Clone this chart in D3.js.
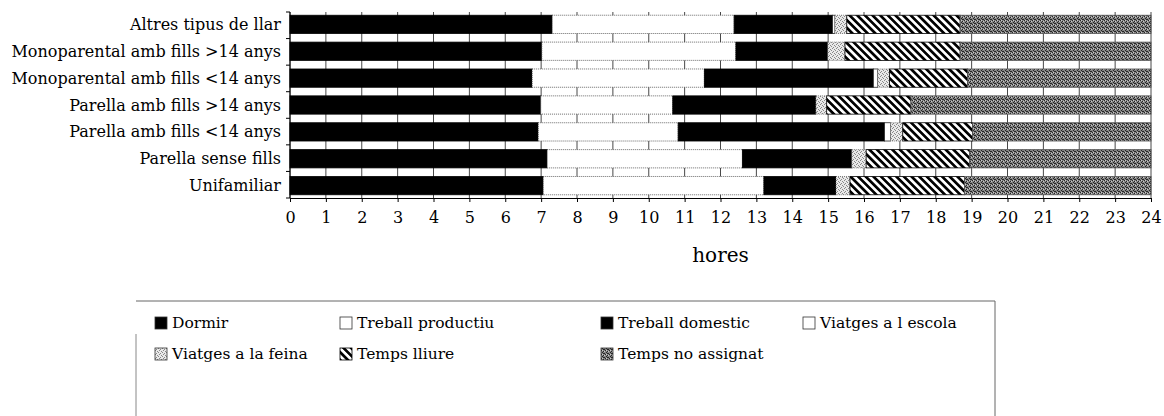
<!DOCTYPE html>
<html>
<head>
<meta charset="utf-8">
<script src="https://cdn.jsdelivr.net/npm/d3@7"></script>
<style>
  body { margin: 0; background: #fff; }
  svg { display: block; }
  text { font-family: "DejaVu Serif", "Liberation Serif", serif; fill: #000; }
</style>
</head>
<body>
<div id="chart"></div>
<script>
// Data (hours per day, rows top to bottom)
var categories = ["Altres tipus de llar", "Monoparental amb fills >14 anys", "Monoparental amb fills <14 anys",
                  "Parella amb fills >14 anys", "Parella amb fills <14 anys", "Parella sense fills", "Unifamiliar"];
var dormir          = [7.31, 7.02, 6.75, 6.99, 6.92, 7.17, 7.06];
var treballProd     = [5.07, 5.41, 4.80, 3.68, 3.90, 5.44, 6.15];
var treballDom      = [2.74, 2.56, 4.71, 3.99, 5.75, 3.05, 2.01];
var viatgesEscola   = [0.07, 0.00, 0.12, 0.00, 0.17, 0.00, 0.00];
var viatgesFeina    = [0.33, 0.48, 0.33, 0.30, 0.34, 0.40, 0.39];
var tempsLliure     = [3.16, 3.21, 2.18, 2.35, 1.95, 2.89, 3.19];
var tempsNoAssignat = [5.32, 5.32, 5.11, 6.69, 4.97, 5.05, 5.20];
var seriesNames = ["Dormir", "Treball productiu", "Treball domestic", "Viatges a l escola",
                   "Viatges a la feina", "Temps lliure", "Temps no assignat"];
var hourTicks = [0, 1, 2, 3, 4, 5, 6, 7, 8, 9, 10, 11, 12, 13, 14, 15, 16, 17, 18, 19, 20, 21, 22, 23, 24];
var axisTitle = "hores";

var seriesValues = [dormir, treballProd, treballDom, viatgesEscola, viatgesFeina, tempsLliure, tempsNoAssignat];
var keys = ["k0", "k1", "k2", "k3", "k4", "k5", "k6"];

var table = categories.map(function(c, i){
	var row = {cat: c};
	keys.forEach(function(k, j){ row[k] = seriesValues[j][i]; });
	return row;
});

var W = 1164, H = 416;
var plot = {left: 290, right: 1151, top: 12, bottom: 198};

var svg = d3.select("#chart").append("svg")
	.attr("width", W)
	.attr("height", H);

// Patterns for the scanned fills
var defs = svg.append("defs");

var hatch = defs.append("pattern")
	.attr("id", "hatch")
	.attr("patternUnits", "userSpaceOnUse")
	.attr("width", 5.4).attr("height", 5.4)
	.attr("patternTransform", "rotate(-45)");
hatch.append("rect").attr("width", 5.4).attr("height", 5.4).attr("fill", "#fff");
hatch.append("rect").attr("width", 2.7).attr("height", 5.4).attr("fill", "#000");

var light = defs.append("pattern")
	.attr("id", "lightDots")
	.attr("patternUnits", "userSpaceOnUse")
	.attr("width", 4).attr("height", 4);
light.append("rect").attr("width", 4).attr("height", 4).attr("fill", "#e9e9e9");
[[0, 0], [2, 1], [1, 3], [3, 2]].forEach(function(p){
	light.append("rect").attr("x", p[0]).attr("y", p[1]).attr("width", 1).attr("height", 1).attr("fill", "#888");
});

var dark = defs.append("pattern")
	.attr("id", "darkDots")
	.attr("patternUnits", "userSpaceOnUse")
	.attr("width", 4).attr("height", 4);
dark.append("rect").attr("width", 4).attr("height", 4).attr("fill", "#858585");
[[0, 0], [2, 1], [1, 2], [3, 3], [2, 3]].forEach(function(p){
	dark.append("rect").attr("x", p[0]).attr("y", p[1]).attr("width", 1).attr("height", 1).attr("fill", "#262626");
});
[[1, 0], [3, 1]].forEach(function(p){
	dark.append("rect").attr("x", p[0]).attr("y", p[1]).attr("width", 1).attr("height", 1).attr("fill", "#c8c8c8");
});

var styles = [
	{fill: "#000", stroke: "#000", dash: null},
	{fill: "#fff", stroke: "#444", dash: "1,1"},
	{fill: "#000", stroke: "#000", dash: null},
	{fill: "#fff", stroke: "#222", dash: null},
	{fill: "url(#lightDots)", stroke: "#666", dash: "1,1"},
	{fill: "url(#hatch)", stroke: "#000", dash: null},
	{fill: "url(#darkDots)", stroke: "#555", dash: null}
];

// Scales
var x = d3.scaleLinear().domain([0, 24]).range([plot.left, plot.right]);
var y = d3.scaleBand().domain(categories).range([plot.top, plot.bottom]).paddingInner(0.32).paddingOuter(0.12);

// Gridlines at every hour
svg.append("g")
	.attr("class", "grid")
	.selectAll("line")
	.data(hourTicks)
	.enter().append("line")
	.attr("x1", d => x(d)).attr("x2", d => x(d))
	.attr("y1", plot.top).attr("y2", plot.bottom)
	.attr("stroke", "#333")
	.attr("stroke-width", 0.9);

// Stacked bars
var stack = d3.stack().keys(keys);
var layers = svg.append("g").selectAll("g")
	.data(stack(table))
	.enter().append("g")
	.attr("fill", (d, i) => styles[i].fill)
	.attr("stroke", (d, i) => styles[i].stroke)
	.attr("stroke-dasharray", (d, i) => styles[i].dash)
	.attr("stroke-width", 0.8);

layers.selectAll("rect")
	.data(d => d.filter(s => s[1] - s[0] > 0))
	.enter().append("rect")
	.attr("x", d => x(d[0]))
	.attr("y", d => y(d.data.cat))
	.attr("width", d => x(d[1]) - x(d[0]))
	.attr("height", y.bandwidth());

// Left axis with ticks between rows
var leftAxis = svg.append("g");
leftAxis.append("line")
	.attr("x1", plot.left).attr("x2", plot.left)
	.attr("y1", plot.top).attr("y2", plot.bottom)
	.attr("stroke", "#000");
leftAxis.selectAll(".tk")
	.data(d3.range(categories.length + 1))
	.enter().append("line")
	.attr("x1", plot.left - 4).attr("x2", plot.left)
	.attr("y1", d => plot.top + d * (plot.bottom - plot.top) / categories.length)
	.attr("y2", d => plot.top + d * (plot.bottom - plot.top) / categories.length)
	.attr("stroke", "#000");
leftAxis.selectAll(".lbl")
	.data(categories)
	.enter().append("text")
	.attr("x", plot.left - 9)
	.attr("y", d => y(d) + y.bandwidth() / 2)
	.attr("dy", "0.35em")
	.attr("text-anchor", "end")
	.style("font-size", "16px")
	.text(d => d);

// Bottom axis
var bottomAxis = svg.append("g")
	.attr("transform", "translate(0," + plot.bottom + ")")
	.call(d3.axisBottom(x).tickValues(hourTicks).tickFormat(d3.format("d")).tickSizeInner(4).tickSizeOuter(0).tickPadding(10));
bottomAxis.select(".domain").attr("stroke", "#000");
bottomAxis.selectAll(".tick line").attr("stroke", "#000");
bottomAxis.selectAll("text")
	.style("font-family", "'DejaVu Serif', serif")
	.style("font-size", "16px")
	.attr("fill", "#000");

svg.append("text")
	.attr("x", (plot.left + plot.right) / 2)
	.attr("y", 262)
	.attr("text-anchor", "middle")
	.style("font-size", "20px")
	.text(axisTitle);

// Legend frame (scan shows top and right edges, left edge only lower down)
var box = {left: 136, right: 995, top: 301};
svg.append("path")
	.attr("d", "M" + box.left + "," + box.top + "H" + box.right + "V" + H)
	.attr("fill", "none")
	.attr("stroke", "#666")
	.attr("stroke-width", 1);
svg.append("line")
	.attr("x1", box.left).attr("x2", box.left)
	.attr("y1", 334).attr("y2", H)
	.attr("stroke", "#888")
	.attr("stroke-width", 1);

var legendPos = [[155, 323], [340, 323], [601, 323], [803, 323], [155, 354], [340, 354], [601, 354]];
var legend = svg.append("g").selectAll("g")
	.data(seriesNames)
	.enter().append("g")
	.attr("transform", (d, i) => "translate(" + legendPos[i][0] + "," + legendPos[i][1] + ")");

legend.append("rect")
	.attr("x", 0).attr("y", -6)
	.attr("width", 12).attr("height", 12)
	.attr("fill", (d, i) => styles[i].fill)
	.attr("stroke", (d, i) => i === 5 ? "#000" : "#333")
	.attr("stroke-width", 0.8);

legend.append("text")
	.attr("x", 17)
	.attr("y", 0)
	.attr("dy", "0.35em")
	.style("font-size", "15.5px")
	.text(d => d);
</script>
</body>
</html>
